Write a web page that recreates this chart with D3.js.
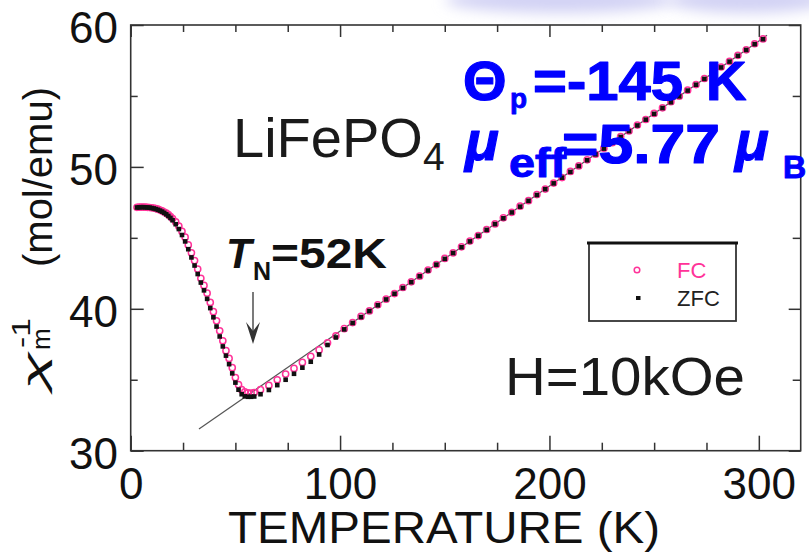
<!DOCTYPE html>
<html lang="en">
<meta charset="utf-8">

<head>
    <title>LiFePO4 inverse susceptibility</title>
    <script src="https://d3js.org/d3.v7.min.js"></script>
    <style>
        body { margin: 0; background: #fff; }
        svg { display: block; }
    </style>
</head>

<body>
    <div id="plot"></div>
    <script>

        // temperature grid (K) shared by both runs
        var temps = [3, 4, 5, 6, 7, 8, 9, 10, 11, 12, 13, 14, 15, 16, 17, 18, 19, 20,
            21.5, 23, 24.5, 26, 27.5, 29, 30.5, 32, 33.5, 35, 36.5, 38, 39.5, 41, 42.5, 44, 45.5, 47, 48.5, 50, 51.5, 53, 54.5, 56, 57.5, 59,
            62, 66, 70, 74, 78, 82, 86, 90, 94, 98,
            102, 106, 110, 114, 118, 122, 126, 130, 134, 138, 142, 146, 150, 154, 158, 162, 166, 170, 174, 178, 182, 186, 190, 194, 198,
            202, 206, 210, 214, 218, 222, 226, 230, 234, 238, 242, 246, 250, 254, 258, 262, 266, 270, 274, 278, 282, 286, 290, 294, 298, 302];

        // field cooled, 1/chi (mol/emu)
        var chiFC = [47.15, 47.16, 47.17, 47.17, 47.16, 47.15, 47.14, 47.12, 47.10, 47.06, 47.02, 46.96, 46.90, 46.82, 46.74, 46.63, 46.50, 46.36,
            46.12, 45.82, 45.45, 45.05, 44.50, 43.95, 43.40, 42.80, 42.15, 41.65, 41.10, 40.45, 39.80, 39.15, 38.45, 37.75, 37.05, 36.50, 35.85, 35.15, 34.65, 34.30, 34.15, 34.08, 34.06, 34.10,
            34.30, 34.60, 35.00, 35.40, 35.80, 36.22, 36.65, 37.10, 37.60, 38.10,
            38.60, 39.03, 39.46, 39.85, 40.28, 40.68, 41.07, 41.50, 41.90, 42.30, 42.73, 43.12, 43.55, 43.94, 44.37, 44.77, 45.16, 45.59, 45.98, 46.41, 46.80, 47.23, 47.62, 48.05, 48.44,
            48.86, 49.25, 49.68, 50.07, 50.50, 50.89, 51.32, 51.71, 52.14, 52.53, 52.95, 53.34, 53.77, 54.16, 54.59, 54.98, 55.41, 55.80, 56.23, 56.62, 57.04, 57.43, 57.86, 58.25, 58.68, 59.02];

        // zero field cooled
        var chiZFC = [47.14, 47.15, 47.16, 47.16, 47.15, 47.14, 47.13, 47.10, 47.07, 47.03, 46.98, 46.92, 46.85, 46.76, 46.66, 46.54, 46.40, 46.24,
            45.96, 45.62, 45.20, 44.75, 44.20, 43.62, 43.05, 42.45, 41.85, 41.30, 40.70, 40.05, 39.40, 38.75, 38.05, 37.35, 36.70, 36.10, 35.45, 34.80, 34.30, 33.98, 33.83, 33.80, 33.80, 33.82,
            33.98, 34.28, 34.62, 35.00, 35.42, 35.85, 36.27, 36.78, 37.45, 37.98,
            38.55, 39.00, 39.42, 39.84, 40.25, 40.66, 41.06, 41.47, 41.88, 42.29, 42.70, 43.11, 43.52, 43.93, 44.34, 44.75, 45.15, 45.56, 45.97, 46.38, 46.79, 47.20, 47.61, 48.02, 48.43,
            48.84, 49.24, 49.65, 50.06, 50.47, 50.88, 51.29, 51.70, 52.11, 52.52, 52.92, 53.33, 53.74, 54.15, 54.56, 54.97, 55.38, 55.79, 56.20, 56.61, 57.01, 57.42, 57.83, 58.24, 58.65, 59.00];

        // Curie-Weiss fit line end points
        var fitT = [32.6, 303.9];
        var fitChi = [31.53, 59.27];

        var xMajor = [0, 100, 200, 300];
        var xMinor = [25, 50, 75, 125, 150, 175, 225, 250, 275];
        var yMajor = [30, 40, 50, 60];
        var yMinor = [35, 45, 55];

        var legendLabels = ["FC", "ZFC"];

        var pink = "#ff3399";
        var blue = "#0000ff";

        var svg = d3.select("#plot").append("svg")
            .attr("width", 809)
            .attr("height", 552);

        var x = d3.scaleLinear().domain([0, 320]).range([130.7, 800.7]);
        var y = d3.scaleLinear().domain([30, 60]).range([450.7, 25]);

        // faint blurred blob along the top edge
        var defs = svg.append("defs");
        defs.append("filter").attr("id", "blur")
            .attr("x", "-50%").attr("y", "-100%").attr("width", "200%").attr("height", "300%")
            .append("feGaussianBlur").attr("stdDeviation", 7);
        svg.append("ellipse").attr("cx", 560).attr("cy", 0).attr("rx", 115).attr("ry", 13)
            .attr("fill", "#d2d2f4").attr("filter", "url(#blur)");
        svg.append("ellipse").attr("cx", 748).attr("cy", 0).attr("rx", 80).attr("ry", 13)
            .attr("fill", "#d2d2f4").attr("filter", "url(#blur)");

        function styleAxis(g) {
            g.select(".domain").remove();
            g.selectAll("line").attr("stroke", "#333").attr("stroke-width", 1.5);
            g.selectAll("text")
                .style("font-family", "'Liberation Sans', Arial, sans-serif")
                .style("font-size", "44px")
                .attr("fill", "#111");
        }

        // bottom
        svg.append("g").attr("transform", "translate(0," + y(30) + ")")
            .call(d3.axisBottom(x).tickValues(xMinor).tickSize(-8).tickFormat(""))
            .call(styleAxis);
        svg.append("g").attr("transform", "translate(0," + y(30) + ")")
            .call(d3.axisBottom(x).tickValues(xMajor).tickSize(-15).tickPadding(17).tickFormat(d3.format("d")))
            .call(styleAxis);
        // top
        svg.append("g").attr("transform", "translate(0," + y(60) + ")")
            .call(d3.axisTop(x).tickValues(xMinor).tickSize(-7).tickFormat(""))
            .call(styleAxis);
        svg.append("g").attr("transform", "translate(0," + y(60) + ")")
            .call(d3.axisTop(x).tickValues(xMajor).tickSize(-12).tickFormat(""))
            .call(styleAxis);
        // left
        svg.append("g").attr("transform", "translate(" + x(0) + ",0)")
            .call(d3.axisLeft(y).tickValues(yMinor).tickSize(-7).tickFormat(""))
            .call(styleAxis);
        svg.append("g").attr("transform", "translate(" + x(0) + ",0)")
            .call(d3.axisLeft(y).tickValues(yMajor).tickSize(-13).tickPadding(12.7).tickFormat(d3.format("d")))
            .call(styleAxis)
            .selectAll("text").attr("dy", "0.4em");
        // right
        svg.append("g").attr("transform", "translate(" + x(320) + ",0)")
            .call(d3.axisRight(y).tickValues(yMinor).tickSize(-8).tickFormat(""))
            .call(styleAxis);
        svg.append("g").attr("transform", "translate(" + x(320) + ",0)")
            .call(d3.axisRight(y).tickValues(yMajor).tickSize(-12).tickFormat(""))
            .call(styleAxis);

        // frame
        svg.append("rect")
            .attr("x", x(0)).attr("y", y(60))
            .attr("width", x(320) - x(0)).attr("height", y(30) - y(60))
            .attr("fill", "none").attr("stroke", "#333").attr("stroke-width", 1.6);

        // fit line
        svg.append("line")
            .attr("x1", x(fitT[0])).attr("y1", y(fitChi[0]))
            .attr("x2", x(fitT[1])).attr("y2", y(fitChi[1]))
            .attr("stroke", "#555").attr("stroke-width", 1.2);

        var fcData = temps.map(function (t, i) { return { t: t, v: chiFC[i] }; });
        var zfcData = temps.map(function (t, i) { return { t: t, v: chiZFC[i] }; });

        svg.append("g").selectAll("circle")
            .data(fcData).enter().append("circle")
            .attr("cx", function (d) { return x(d.t); })
            .attr("cy", function (d) { return y(d.v); })
            .attr("r", 3.1)
            .attr("fill", "none")
            .attr("stroke", pink)
            .attr("stroke-width", 1.5);

        svg.append("g").selectAll("rect")
            .data(zfcData).enter().append("rect")
            .attr("x", function (d) { return x(d.t) - 2.3; })
            .attr("y", function (d) { return y(d.v) - 2.3; })
            .attr("width", 4.6).attr("height", 4.6)
            .attr("fill", "#111");

        // legend
        svg.append("rect").attr("x", 589).attr("y", 243).attr("width", 147).attr("height", 78)
            .attr("fill", "#fff").attr("stroke", "#333").attr("stroke-width", 1.8);
        svg.append("line").attr("x1", 587).attr("x2", 738).attr("y1", 243).attr("y2", 243)
            .attr("stroke", "#111").attr("stroke-width", 3);
        svg.append("circle").attr("cx", 637).attr("cy", 270).attr("r", 2.8)
            .attr("fill", "none").attr("stroke", pink).attr("stroke-width", 1.5);
        svg.append("rect").attr("x", 636).attr("y", 296).attr("width", 4.5).attr("height", 4).attr("fill", "#111");
        svg.selectAll(".leg").data(legendLabels).enter().append("text")
            .attr("x", 677)
            .attr("y", function (d, i) { return 278 + i * 28; })
            .attr("fill", function (d, i) { return i == 0 ? pink : "#222"; })
            .style("font-family", "'Liberation Sans', Arial, sans-serif")
            .style("font-size", "22px")
            .text(function (d) { return d; });

        // axis titles
        svg.append("text")
            .attr("x", 444).attr("y", 543)
            .attr("text-anchor", "middle")
            .attr("textLength", 432).attr("lengthAdjust", "spacingAndGlyphs")
            .style("font-family", "'Liberation Sans', Arial, sans-serif")
            .style("font-size", "45px").attr("fill", "#111")
            .text("TEMPERATURE (K)");

        var yt = svg.append("g").attr("transform", "translate(52,390) rotate(-90)")
            .style("font-family", "'Liberation Sans', Arial, sans-serif").attr("fill", "#111");
        yt.append("text").attr("x", 0).attr("y", -7).style("font-size", "32px")
            .style("font-style", "italic")
            .attr("textLength", 38).attr("lengthAdjust", "spacingAndGlyphs").text("χ");
        yt.append("text").attr("x", 40).attr("y", -2).style("font-size", "26px").text("m");
        yt.append("text").attr("x", 42).attr("y", -22).style("font-size", "25px")
            .attr("textLength", 30).attr("lengthAdjust", "spacingAndGlyphs").text("-1");
        yt.append("text").attr("x", 123).attr("y", 0).style("font-size", "40px")
            .attr("textLength", 180).attr("lengthAdjust", "spacingAndGlyphs").text("(mol/emu)");

        // annotations
        var sans = "'Liberation Sans', Arial, sans-serif";
        function label(px, py, size, txt, opts) {
            opts = opts || {};
            var t = svg.append("text").attr("x", px).attr("y", py)
                .style("font-family", sans).style("font-size", size + "px")
                .attr("fill", opts.fill || "#111")
                .style("font-weight", opts.bold ? "bold" : "normal")
                .style("font-style", opts.italic ? "italic" : "normal")
                .text(txt);
            if (opts.len) t.attr("textLength", opts.len).attr("lengthAdjust", "spacingAndGlyphs");
            if (opts.stroke) t.attr("stroke", opts.fill).attr("stroke-width", opts.stroke).attr("stroke-linejoin", "round");
            return t;
        }

        label(233, 157, 56, "LiFePO", { fill: "#1a1a1a" });
        label(423, 170, 39, "4", { fill: "#1a1a1a" });

        label(505, 395, 54, "H=10kOe", { fill: "#1a1a1a", len: 240 });

        label(226, 268, 42, "T", { bold: true, italic: true });
        label(253, 280, 25, "N", { bold: true });
        label(271, 268, 42, "=52K", { bold: true, len: 116, stroke: 0.8 });

        label(463, 100, 56, "Θ", { bold: true, fill: blue, stroke: 1.2 });
        label(510, 108, 28, "p", { bold: true, fill: blue, stroke: 0.8 });
        label(533, 100, 56, "=-145", { bold: true, fill: blue, len: 150, stroke: 1.2 });
        label(706, 100, 56, "K", { bold: true, fill: blue, stroke: 1.2 });

        label(465, 160, 56, "μ", { bold: true, italic: true, fill: blue, stroke: 1.2 });
        label(509, 177, 40, "eff", { bold: true, fill: blue, len: 57, stroke: 1 });
        label(562, 163, 56, "=5.77", { bold: true, fill: blue, len: 158, stroke: 1.2 });
        label(735, 160, 56, "μ", { bold: true, italic: true, fill: blue, stroke: 1.2 });
        label(783, 178, 32, "B", { bold: true, fill: blue, stroke: 1 });

        // arrow pointing at T_N
        svg.append("line").attr("x1", 253).attr("x2", 253).attr("y1", 292).attr("y2", 336)
            .attr("stroke", "#333").attr("stroke-width", 1.3);
        svg.append("path")
            .attr("d", "M253,344 L246,322 L253,331 L260,322 Z")
            .attr("fill", "#333");

    </script>

</body>

</html>
